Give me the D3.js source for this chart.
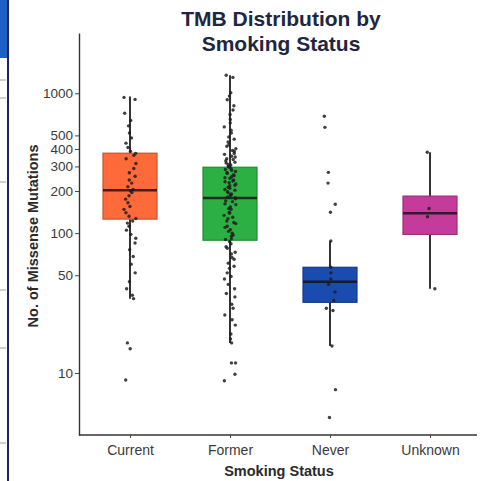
<!DOCTYPE html>
<html>
<head>
<meta charset="utf-8">
<script src="https://cdn.jsdelivr.net/npm/d3@7"></script>
<style>
  body { margin: 0; background: #fff; }
  svg { display: block; font-family: "Liberation Sans", Arial, sans-serif; }
</style>
</head>
<body>
<div id="chart"></div>
<script>
// box summary values
const categories = ["Current", "Former", "Never", "Unknown"]
const whiskerLow = [34, 16.4, 15.6, 40]
const q1 = [126, 89, 32, 98]
const medians = [203, 178, 45, 139]
const q3 = [373, 296, 57, 184]
const whiskerHigh = [950, 1345, 88, 379]
const yTicks = [10, 50, 100, 200, 300, 400, 500, 1000]

// individual samples (jittered dots)
const currentPoints = [935, 905, 720, 640, 585, 520, 480, 440, 410, 385, 372, 360, 340, 315, 290, 270, 255, 240,
  228, 215, 205, 200, 195, 185, 175, 165, 155, 148, 140, 132, 127, 122, 118, 112, 105, 98, 92, 85, 76,
  68, 60, 52, 45, 40, 36, 34, 16.4, 14.9, 8.9]
const formerPoints = [1345, 1300, 1010, 955, 900, 815, 760, 705, 650, 615, 575, 545, 520, 488, 470, 448, 430, 418,
  402, 390, 384, 371, 366, 355, 350, 341, 336, 329, 322, 318, 310, 307, 300, 297,
  291, 285, 282, 276, 270, 268, 262, 258, 253, 249, 247, 240, 236, 233, 229, 225, 220, 218, 213, 209,
  205, 203, 198, 195, 191, 188, 186, 181, 179,
  176, 170, 168, 162, 160, 154, 150, 148, 141, 139, 134, 130, 127, 122, 119, 117, 112, 110, 106, 103,
  100, 97, 95, 91, 90,
  87, 84, 80, 78, 73, 71, 67, 65, 61, 58, 56, 52, 49, 47, 43, 40, 37, 35, 31, 29, 26, 24, 22, 19, 17.5, 16.4,
  11.8, 11.8, 9.8, 8.8]
const neverPoints = [685, 571, 272, 228, 161, 141, 88, 57, 52, 47, 43, 38, 33, 29, 28, 15.6, 7.6, 4.8]
const unknownPoints = [379, 150, 131, 40]

const samples = [currentPoints, formerPoints, neverPoints, unknownPoints]
const fills = ["#ff6a3a", "#2db043", "#1a4caf", "#c43b9c"]

let width = 485
let height = 481
let svg = d3.select("#chart").append("svg")
  .attr("width", width)
  .attr("height", height)

// strip of neighbouring figure at the left edge
svg.append("rect").attr("x", 0).attr("y", 0).attr("width", 9).attr("height", 58).attr("fill", "#1f5ec4")
svg.append("line").attr("x1", 8).attr("x2", 8).attr("y1", 0).attr("y2", height)
  .attr("stroke", "#1b2566").attr("stroke-width", 2)
;[80, 98, 182, 290, 348, 443].forEach(y => {
  svg.append("line").attr("x1", 0).attr("x2", 6).attr("y1", y).attr("y2", y)
    .attr("stroke", "#9aa0aa").attr("stroke-width", 1)
})

let x = d3.scalePoint().domain(categories).range([80, 480]).padding(0.5)
let y = d3.scaleLog().domain([3.6, 2700]).range([435, 33])
let boxW = 54

// axes
let yAxis = svg.append("g")
  .attr("transform", "translate(79,0)")
  .call(d3.axisLeft(y).tickValues(yTicks).tickFormat(d3.format("d")).tickSize(4).tickSizeOuter(0))
let xAxis = svg.append("g")
  .attr("transform", "translate(0,435)")
  .call(d3.axisBottom(x).tickSize(3).tickSizeOuter(0))
xAxis.select(".domain").attr("d", "M79,0H477")
;[yAxis, xAxis].forEach(g => {
  g.select(".domain").attr("stroke", "#333").attr("stroke-width", 1.4)
  g.selectAll(".tick line").attr("stroke", "#444")
  g.selectAll(".tick text").attr("fill", "#3a3a3a").style("font-size", "13.5px")
    .style("font-family", "'Liberation Sans', Arial, sans-serif")
})
yAxis.selectAll(".tick text").attr("x", -6)
xAxis.selectAll(".tick text").attr("y", 10).style("font-size", "14px")

let groups = svg.selectAll("g.box")
  .data(categories)
  .enter()
  .append("g")
  .attr("class", "box")

groups.append("line")
  .attr("x1", d => x(d)).attr("x2", d => x(d))
  .attr("y1", (d, i) => y(whiskerLow[i])).attr("y2", (d, i) => y(whiskerHigh[i]))
  .attr("stroke", "#333").attr("stroke-width", 2)

groups.append("rect")
  .attr("x", d => x(d) - boxW / 2)
  .attr("width", boxW)
  .attr("y", (d, i) => y(q3[i]))
  .attr("height", (d, i) => y(q1[i]) - y(q3[i]))
  .attr("fill", (d, i) => fills[i])
  .attr("stroke", (d, i) => d3.color(fills[i]).darker(0.7))
  .attr("stroke-width", 1.2)

groups.append("line")
  .attr("x1", d => x(d) - boxW / 2).attr("x2", d => x(d) + boxW / 2)
  .attr("y1", (d, i) => y(medians[i])).attr("y2", (d, i) => y(medians[i]))
  .attr("stroke", "#1a0d10").attr("stroke-opacity", 0.8).attr("stroke-width", 2.5)

// fixed pseudo-jitter so the dots spread sideways the same way every run
function jitter(j, i) {
  let s = Math.sin(j * 12.9898 + i * 78.233) * 43758.5453
  return (s - Math.floor(s)) * 2 - 1
}

groups.each(function (d, i) {
  d3.select(this).selectAll("circle")
    .data(samples[i])
    .enter()
    .append("circle")
    .attr("cx", (v, j) => x(d) + jitter(j, i) * 6)
    .attr("cy", v => y(v))
    .attr("r", 1.7)
    .attr("fill", "#1e1e1e")
    .attr("fill-opacity", 0.85)
})

// titles
svg.append("text").attr("x", 281).attr("y", 26).attr("text-anchor", "middle")
  .style("font-size", "21px").style("font-weight", "bold").attr("fill", "#1e2640")
  .text("TMB Distribution by")
svg.append("text").attr("x", 281).attr("y", 51).attr("text-anchor", "middle")
  .style("font-size", "21px").style("font-weight", "bold").attr("fill", "#1e2640")
  .text("Smoking Status")
svg.append("text").attr("x", 279).attr("y", 476).attr("text-anchor", "middle")
  .style("font-size", "14.5px").style("font-weight", "bold").attr("fill", "#2a2a2a")
  .text("Smoking Status")
svg.append("text").attr("transform", "translate(38,236) rotate(-90)").attr("text-anchor", "middle")
  .style("font-size", "14.5px").style("font-weight", "bold").attr("fill", "#2a2a2a")
  .text("No. of Missense Mutations")
</script>
</body>
</html>
